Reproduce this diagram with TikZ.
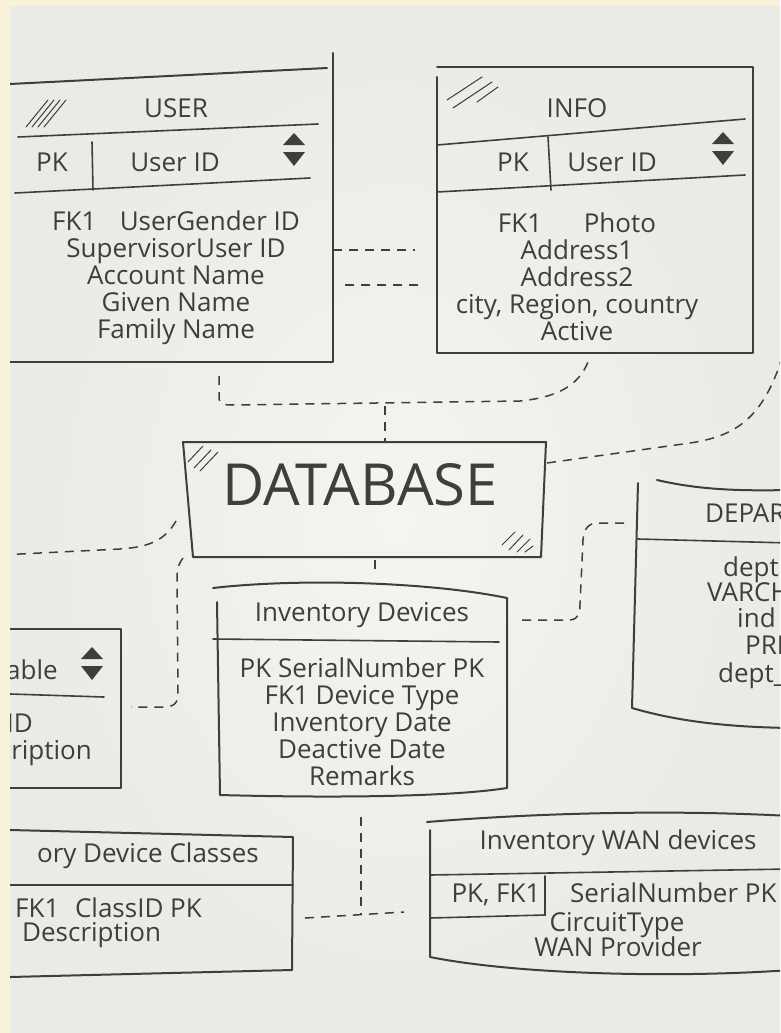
\documentclass[tikz,border=0pt]{standalone}
\usepackage{fontspec}
\setmainfont{Open Sans}

\definecolor{ink}{HTML}{3E3E3A}
\definecolor{paper}{HTML}{EBEBE6}
\definecolor{paperlite}{HTML}{F4F4F0}
\definecolor{framecol}{HTML}{F7F2D8}

% sort arrows (up and down triangle) at x, y
\newcommand{\sortarrows}[2]{%
  \fill[ink] (#1-11,#2-4) -- (#1+11,#2-4) -- (#1,#2-16) -- cycle;
  \fill[ink] (#1-11,#2+3) -- (#1+11,#2+3) -- (#1,#2+17) -- cycle;}

\begin{document}
\begin{tikzpicture}[
    x=1pt, y=-1pt,
    box/.style={draw=ink, line width=2pt, line cap=round, line join=round},
    sepline/.style={draw=ink, line width=1.6pt, line cap=round},
    link/.style={draw=ink, line width=1.5pt, dash pattern=on 9pt off 7pt},
    hatch/.style={draw=ink, line width=1pt, line cap=round},
    txt/.style={text=ink, font=\fontsize{26}{27}\selectfont, inner sep=0pt, anchor=mid},
    body/.style={txt, anchor=center, align=center}
    ]
    \useasboundingbox (0,0) rectangle (780,1033);
    \fill[framecol] (0,0) rectangle (780,1033);

    \begin{scope}
    \clip (10,7) rectangle (780,1033);
    \fill[paper] (10,7) rectangle (780,1033);
    \shade[inner color=paperlite, outer color=paper] (10,7) rectangle (780,1033);

    % USER
    \draw[box] (10,84) -- (327,68);
    \draw[box] (333,53) -- (333,362) -- (10,362);
    \draw[sepline] (18,137) -- (318,124);
    \draw[sepline] (15,193) -- (310,178);
    \draw[sepline] (92,142) -- (93,190);
    \foreach \d in {0,6,12,18}
        \draw[hatch] (26+\d,127) -- (48+\d,100);
    \node[txt] (userTitle) at (176,115) {USER};
    \node[txt] (userPk) at (52,169) {PK};
    \node[txt] (userId) at (175,169) {User ID};
    \sortarrows{294}{149}
    \node[body] (userBody) at (176,278)
        {FK1\hspace{0.9em}UserGender ID\\SupervisorUser ID\\Account Name\\Given Name\\Family Name};

    % INFO
    \draw[box] (437,77) -- (437,353) -- (753,353) -- (753,67) -- (437,67);
    \draw[sepline] (437,145) -- (745,119);
    \draw[sepline] (437,192) -- (745,175);
    \draw[sepline] (548,137) -- (551,190);
    \draw[hatch] (447,100) -- (482,77);
    \draw[hatch] (453,108) -- (492,82);
    \draw[hatch] (477,102) -- (498,87);
    \node[txt] (infoTitle) at (577,115) {INFO};
    \node[txt] (infoPk) at (513,169) {PK};
    \node[txt] (infoId) at (612,169) {User ID};
    \sortarrows{723}{148}
    \node[body] (infoBody) at (577,277)
        {FK1\hspace{1.6em}Photo\\Address1\\Address2\\city, Region, country\\Active};

    % DATABASE
    \draw[box] (183,442) -- (546,442) -- (541,557) -- (193,557) -- cycle;
    \draw[hatch] (188,462) -- (203,446);
    \draw[hatch] (194,468) -- (211,450);
    \draw[hatch] (200,471) -- (218,452);
    \draw[hatch] (502,545) -- (515,532);
    \draw[hatch] (509,550) -- (523,535);
    \draw[hatch] (517,552) -- (530,539);
    \draw[hatch] (525,552) -- (533,546);
    \node[txt, font=\fontsize{58}{60}\selectfont] (dbTitle) at (360,503) {DATABASE};

    % Table (cut off)
    \draw[box] (10,629) -- (121,629) -- (121,788) -- (10,788);
    \draw[sepline] (10,694) -- (104,697);
    \node[txt, anchor=mid east] (tableTitle) at (58,677) {able};
    \sortarrows{92}{663}
    \node[txt, anchor=mid east] (tableId) at (33,730) {ID};
    \node[txt, anchor=mid east] (tableDesc) at (92,757) {cription};

    % Inventory Devices
    \draw[box] (213,588) .. controls (300,578) and (430,582) .. (507,598);
    \draw[box] (217,602) -- (220,795) .. controls (330,798) and (450,797) .. (507,788) -- (507,598);
    \draw[sepline] (213,639) -- (499,642);
    \node[txt] (invTitle) at (362,619) {Inventory Devices};
    \node[body] (invBody) at (362,722)
        {PK SerialNumber PK\\FK1 Device Type\\Inventory Date\\Deactive Date\\Remarks};

    % DEPARTMENT (cut off)
    \draw[box] (657,480) .. controls (700,490) and (740,491) .. (790,490);
    \draw[box] (638,483) -- (632,708) .. controls (680,722) and (730,727) .. (790,728);
    \draw[sepline] (638,539) -- (790,543);
    \node[txt, anchor=mid west] (deptTitle) at (705,520) {DEPAR};
    \node[txt, anchor=mid west] (deptA) at (723,574) {dept};
    \node[txt, anchor=mid west] (deptB) at (707,599) {VARCH};
    \node[txt, anchor=mid west] (deptC) at (737,625) {ind};
    \node[txt, anchor=mid west] (deptD) at (745,652) {PRI};
    \node[txt, anchor=mid west] (deptE) at (718,680) {dept\_};

    % Inventory Device Classes (cut off)
    \draw[box] (10,830) -- (293,837) -- (292,970) -- (10,977);
    \draw[sepline] (10,885) -- (293,885);
    \node[txt, anchor=mid east] (classTitle) at (259,860) {ory Device Classes};
    \node[txt, anchor=mid west] (classKey) at (15,915) {FK1\hspace{0.6em}ClassID PK};
    \node[txt, anchor=mid west] (classDesc) at (22,939) {Description};

    % Inventory WAN devices
    \draw[box] (427,822) .. controls (550,812) and (680,810) .. (790,816);
    \draw[box] (430,830) -- (430,957) .. controls (520,975) and (680,978) .. (790,970);
    \draw[sepline] (430,875) -- (790,869);
    \draw[sepline] (545,876) -- (545,915) -- (430,918);
    \node[txt] (wanTitle) at (618,847) {Inventory WAN devices};
    \node[txt] (wanKey) at (496,900) {PK, FK1};
    \node[txt, anchor=mid west] (wanSerial) at (570,900) {SerialNumber PK};
    \node[txt] (wanCircuit) at (617,929) {CircuitType};
    \node[txt] (wanProvider) at (618,954) {WAN Provider};

    % Spojnice
    \coordinate (userInfoA) at (333,250);
    \coordinate (infoUserA) at (415,250);
    \coordinate (userInfoB) at (345,285);
    \coordinate (infoUserB) at (425,285);
    \coordinate (userBot) at (219,376);
    \coordinate (infoBot) at (588,362);
    \coordinate (busDb) at (385,406);
    \coordinate (dbTop) at (385,442);
    \coordinate (dbRight) at (547,463);
    \coordinate (offRight) at (790,330);
    \coordinate (dbLeft) at (176,521);
    \coordinate (offLeft) at (0,555);
    \coordinate (dbLeftLow) at (183,558);
    \coordinate (tableRight) at (131,707);
    \coordinate (dbBot) at (375,560);
    \coordinate (invTop) at (375,571);
    \coordinate (invRight) at (522,620);
    \coordinate (deptLeft) at (624,523);
    \coordinate (invBot) at (361,817);
    \coordinate (junction) at (361,915);
    \coordinate (classRight) at (305,918);
    \coordinate (wanLeft) at (404,912);

    \draw[link] (userInfoA) -- (infoUserA);
    \draw[link] (userInfoB) -- (infoUserB);
    \draw[link] (userBot) -- (219,397) .. controls (219,404) and (224,405) .. (232,405)
        -- (520,401) .. controls (560,397) and (579,384) .. (infoBot);
    \draw[link] (busDb) -- (dbTop);
    \draw[link] (dbRight) -- (690,443) .. controls (745,435) and (770,410) .. (offRight);
    \draw[link] (dbLeft) .. controls (165,540) and (150,547) .. (120,549) -- (offLeft);
    \draw[link] (dbLeftLow) .. controls (177,566) and (177,572) .. (177,582) -- (178,694)
        .. controls (178,704) and (173,707) .. (163,707) -- (tableRight);
    \draw[link] (dbBot) -- (invTop);
    \draw[link] (invRight) -- (570,620) .. controls (579,619) and (580,613) .. (580,604)
        -- (583,540) .. controls (584,528) and (589,523) .. (598,523) -- (deptLeft);
    \draw[link] (invBot) -- (junction);
    \draw[link] (classRight) -- (wanLeft);
    \end{scope}
\end{tikzpicture}
\end{document}
